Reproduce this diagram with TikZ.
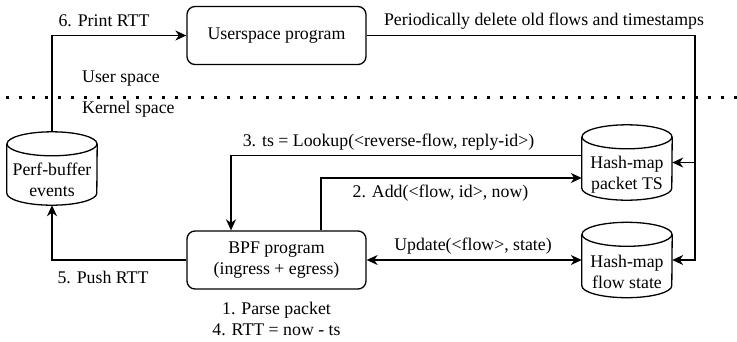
\documentclass[tikz,border=0pt]{standalone}
\usepackage{fontspec}
\IfFontExistsTF{LiberationSerif-Regular.ttf}
  {\setmainfont{LiberationSerif-Regular.ttf}}
  {\setmainfont{Liberation Serif}}
\usetikzlibrary{arrows.meta,calc}
\newcommand\mycyl[1]{%
  \draw[line] ($(#1.north)+(0,12)$) ellipse [x radius=45, y radius=12];
  \draw[line] ($(#1.north west)+(0,12)$) -- ($(#1.south west)+(0,-12)$)
     arc[start angle=180,end angle=0,x radius=45,y radius=12] -- ($(#1.north east)+(0,12)$);
}
\begin{document}
\begin{tikzpicture}[x=1pt,y=-1pt,
  every node/.style={font=\rmfamily\fontsize{17.8}{21}\selectfont, inner sep=0pt},
  line/.style={line width=1.3pt, draw=black},
  arr/.style={line, -{Stealth[length=11pt,width=10pt,inset=3.5pt]}},
  darr/.style={line, {Stealth[length=11pt,width=10pt,inset=3.5pt]}-{Stealth[length=11pt,width=10pt,inset=3.5pt]}},
  rbox/.style={draw, line width=1.3pt, rounded corners=8pt, minimum width=179pt, minimum height=58pt, align=center},
  cylbox/.style={minimum width=90pt, minimum height=75pt},
  lbl/.style={align=center}
]
\useasboundingbox (0,0) rectangle (737,341);

% separator
\draw[line width=3pt, dash pattern=on 3pt off 10pt] (5.5,97) -- (737,97);
\node[anchor=west] (us) at (82,79) {User space};
\node[anchor=west] (ks) at (82,109) {Kernel space};

% main boxes
\node[rbox] (user) at (276.5,35.5) {Userspace program};
\node[rbox] (bpf) at (276.5,260) {BPF program\\(ingress + egress)};

% cylinders
\node[cylbox, minimum height=73pt] (perf) at (52,168.5) {};
\mycyl{perf}
\node[lbl] (perft) at ($(perf.center)+(0,11)$) {Perf-buffer\\events};

\node[cylbox] (ts) at (627,162.5) {};
\mycyl{ts}
\node[lbl] (tst) at ($(ts.center)+(0,12)$) {Hash-map\\packet TS};

\node[cylbox] (flow) at (627,260) {};
\mycyl{flow}
\node[lbl] (flowt) at ($(flow.center)+(0,12)$) {Hash-map\\flow state};

% connectors
\draw[arr] (perf.north) |- (user.west);
\node (l6) at (104,21) {6. Print RTT};

\coordinate (rc) at (695,35.5);
\draw[arr] (user.east) -- (rc) |- (flow.east);
\draw[arr] (rc |- ts.east) -- (ts.east);
\node (lp) at (544,21) {Periodically delete old flows and timestamps};

\draw[arr] ($(ts.west)+(0,-7)$) -| ($(bpf.north)+(-45.5,0)$);
\node (l3) at (388.5,142) {3. ts = Lookup(<reverse-flow, reply-id>)};

\draw[arr] ($(bpf.north)+(44.5,0)$) |- ($(ts.west)+(0,15.5)$);
\node (l2) at (440.5,193) {2. Add(<flow, id>, now)};

\draw[darr] (bpf.east) -- (flow.west);
\node (lu) at (473,246) {Update(<flow>, state)};

\draw[arr] (bpf.west) -| (perf.south);
\node (l5) at (103,277) {5. Push RTT};

\node[lbl] (l14) at (276.5,319) {1. Parse packet\\4. RTT = now - ts};
\end{tikzpicture}
\end{document}
